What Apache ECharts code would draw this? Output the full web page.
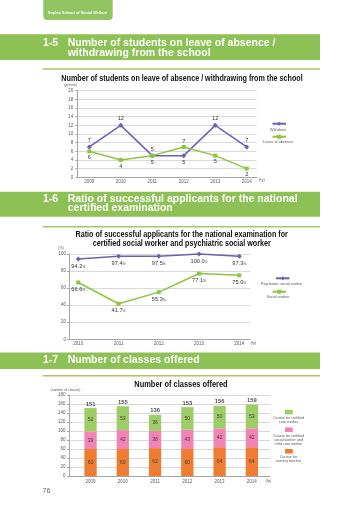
<!DOCTYPE html>
<html><head><meta charset="utf-8">
<script src="https://cdn.jsdelivr.net/npm/echarts@6/dist/echarts.min.js"></script>
<style>html,body{margin:0;padding:0;background:#fff}#c{width:360px;height:509px}</style>
</head><body><div id="c"></div>
<script>
// ---- data ----
const years1 = ['2009','2010','2011','2012','2013','2014'];
const withdraw = [7, 12, 5, 5, 12, 7];
const leaveOfAbsence = [6, 4, 5, 7, 5, 2];
const withdrawLabelPos = ['top','top','bottom','bottom','top','top'];
const leaveLabelPos = ['bottom','bottom','top','top','bottom','bottom'];

const years2 = ['2010','2011','2012','2013','2014'];
const psychiatricSocialWorker = [94.2, 97.4, 97.5, 100.0, 97.3];
const socialWorker = [66.6, 41.7, 55.3, 77.1, 75.0];

const years3 = ['2009','2010','2011','2012','2013','2014'];
const nurseryTeacher = [60, 60, 62, 60, 64, 64];
const socialChildCare = [39, 42, 38, 43, 42, 42];
const careWorker = [52, 53, 36, 50, 50, 53];
const totalClasses = [151, 155, 136, 153, 156, 159];

// ---- styles ----
const SANS = '"Liberation Sans", Arial, Helvetica, sans-serif';
const PURPLE = '#6f5fb1';
const LGREEN = '#8cc63f';
const HEAD = '#8dc155';
const C_ORANGE = '#ee7d31';
const C_PINK = '#f284b5';
const C_GREEN = '#9ccd66';
const AX = '#a6a6a6';
const GRIDC = '#d9d9d9';
const LAB = '#595959';

function txt(x, y, text, size, o) {
  o = o || {};
  const el = {type:'text', x:x, y:y, silent:true, z:10,
    style:{text:text, fontSize:size, fontFamily:SANS, fontWeight:o.weight||'normal',
      fill:o.fill||LAB, align:o.align||'left', verticalAlign:'middle'}};
  if (o.sx) { el.scaleX = o.sx; }
  return el;
}
function rect(x, y, w, h, fill, r) {
  return {type:'rect', silent:true, z:1, shape:{x:x, y:y, width:w, height:h, r:r||0}, style:{fill:fill}};
}
const TT = {fill:'#111', weight:'bold', align:'center', sx:0.825};

const graphics = [
  rect(43.3, -6, 69.4, 26, '#93c462', 4),
  txt(77.5, 13.3, 'Sophia School of Social Welfare', 3.9, {fill:'#fff', weight:'bold', align:'center'}),
  // 1-5
  rect(0, 34.3, 320, 25.7, HEAD),
  txt(43, 42.7, '1-5', 10.5, {fill:'#fff', weight:'bold'}),
  txt(67.7, 42.7, 'Number of students on leave of absence /', 10.5, {fill:'#fff', weight:'bold'}),
  txt(67.7, 52.7, 'withdrawing from the school', 10.5, {fill:'#fff', weight:'bold'}),
  rect(42.7, 68.2, 277.3, 1.6, '#9fcb6e'),
  txt(182, 78.3, 'Number of students on leave of absence / withdrawing from the school', 8.7, TT),
  txt(70.5, 85.3, '(person)', 3.4, {align:'center'}),
  txt(259, 180.2, '(fy)', 4, {}),
  txt(278, 130.2, 'Withdraw', 3.8, {align:'center'}),
  txt(278, 142.4, 'Leave of absence', 3.8, {align:'center'}),
  // 1-6
  rect(0, 191.7, 320, 25, HEAD),
  txt(43, 199.2, '1-6', 10.5, {fill:'#fff', weight:'bold'}),
  txt(67.7, 199.2, 'Ratio of successful applicants for the national', 10.5, {fill:'#fff', weight:'bold'}),
  txt(67.7, 208.5, 'certified examination', 10.5, {fill:'#fff', weight:'bold'}),
  rect(42.7, 225.9, 277.3, 1.6, '#9fcb6e'),
  txt(181.7, 235, 'Ratio of successful applicants for the national examination for', 8.7, TT),
  txt(181.7, 243.3, 'certified social worker and psychiatric social worker', 8.7, TT),
  txt(61, 247.5, '(%)', 3.6, {align:'center'}),
  txt(250.5, 342.8, '(fy)', 4, {}),
  txt(281.5, 283.8, 'Psychiatric social worker', 3.8, {align:'center'}),
  txt(278, 296.8, 'Social worker', 3.8, {align:'center'}),
  // 1-7
  rect(0, 352.5, 320, 16.5, HEAD),
  txt(43, 360.3, '1-7', 10.5, {fill:'#fff', weight:'bold'}),
  txt(67.7, 360.3, 'Number of classes offered', 10.5, {fill:'#fff', weight:'bold'}),
  rect(42.7, 374.9, 277.3, 1.6, '#9fcb6e'),
  txt(181, 384.2, 'Number of classes offered', 9, TT),
  txt(65.5, 390.2, '(number of classes)', 3.4, {align:'center'}),
  txt(265.5, 481.2, '(fy)', 4, {}),
  txt(288.5, 418.3, 'Course for certified', 3.7, {align:'center'}),
  txt(288.5, 422.4, 'care worker', 3.7, {align:'center'}),
  txt(288.5, 435.7, 'Course for certified', 3.7, {align:'center'}),
  txt(288.5, 439.8, 'social worker and', 3.7, {align:'center'}),
  txt(288.5, 443.9, 'child care worker', 3.7, {align:'center'}),
  txt(288.5, 457.1, 'Course for', 3.7, {align:'center'}),
  txt(288.5, 461.2, 'nursery teacher', 3.7, {align:'center'}),
  txt(46.5, 490.7, '76', 7, {fill:'#666', align:'center'})
];

function frameX(gi) {
  return {gridIndex:gi, type:'value', min:0, max:1, axisLabel:{show:false}, splitLine:{show:false},
    axisTick:{show:false}, axisLine:{show:true, lineStyle:{color:AX, width:1}}};
}
function catX(gi, data, gap, margin) {
  return {gridIndex:gi, type:'category', data:data, boundaryGap:gap, axisLine:{show:false}, axisTick:{show:false},
    splitLine:{show:false}, axisLabel:{fontSize:4.5, color:LAB, margin:margin, fontFamily:SANS}};
}
function frameY(gi, max, interval, margin) {
  return {gridIndex:gi, type:'value', min:0, max:max, interval:interval,
    axisLine:{show:true, lineStyle:{color:AX, width:1}},
    axisTick:{show:true, length:2, lineStyle:{color:AX}},
    splitLine:{show:true, lineStyle:{color:GRIDC, width:1}},
    axisLabel:{fontSize:4.5, color:LAB, margin:margin, fontFamily:SANS}};
}
function hiddenY(gi, max) { return {gridIndex:gi, type:'value', min:0, max:max, show:false}; }

const lineLabel = {show:true, fontSize:5.6, color:'#333', distance:1, fontFamily:SANS};
const pctLabel = {show:true, position:'bottom', distance:2, color:'#333',
  formatter: p => '{n|' + p.value.toFixed(1) + '}{u|%}',
  rich:{n:{fontSize:5.6, color:'#333', fontFamily:SANS}, u:{fontSize:3.4, color:'#333', fontFamily:SANS, padding:[1.5,0,0,0]}}};
const barLabel = {show:true, position:'inside', fontSize:5.2, color:'#444', fontFamily:SANS};

const option = {
  animation:false,
  backgroundColor:'#fff',
  graphic: graphics,
  grid:[
    {left:77.3, top:90.7, width:179.4, height:86.6},
    {left:89.3, top:90.7, width:157.4, height:86.6},
    {left:69, top:254, width:181, height:85.3},
    {left:78.3, top:254, width:161, height:85.3},
    {left:69, top:395, width:201, height:81},
    {left:74.4, top:395, width:193.6, height:81}
  ],
  xAxis:[
    frameX(0), catX(1, years1, false, 1.6),
    frameX(2), catX(3, years2, false, 2),
    frameX(4), catX(5, years3, true, 3)
  ],
  yAxis:[
    frameY(0, 20, 2, 4), hiddenY(1, 20),
    frameY(2, 100, 20, 3), hiddenY(3, 100),
    frameY(4, 180, 20, 3.5), hiddenY(5, 180)
  ],
  legend:[
    {data:['Withdraw'], left:271.5, top:121.2, padding:0, itemWidth:13.5, itemHeight:5, formatter:()=>'', selectedMode:false},
    {data:['Leave of absence'], left:271.5, top:134.2, padding:0, itemWidth:13.5, itemHeight:5, formatter:()=>'', selectedMode:false},
    {data:['Psychiatric social worker'], left:275, top:275.8, padding:0, itemWidth:13.5, itemHeight:5, formatter:()=>'', selectedMode:false},
    {data:['Social worker'], left:271.5, top:289.2, padding:0, itemWidth:13.5, itemHeight:5, formatter:()=>'', selectedMode:false},
    {data:['Course for certified care worker'], left:285, top:409.8, padding:0, itemWidth:7.8, itemHeight:4.6, icon:'rect', formatter:()=>'', selectedMode:false},
    {data:['Course for certified social worker and child care worker'], left:285, top:427.4, padding:0, itemWidth:7.8, itemHeight:4.6, icon:'rect', formatter:()=>'', selectedMode:false},
    {data:['Course for nursery teacher'], left:285, top:449, padding:0, itemWidth:7.8, itemHeight:4.6, icon:'rect', formatter:()=>'', selectedMode:false}
  ],
  series:[
    {type:'line', name:'Withdraw', xAxisIndex:1, yAxisIndex:1, symbol:'diamond', symbolSize:5,
      lineStyle:{color:PURPLE, width:1.5}, itemStyle:{color:PURPLE}, label:lineLabel,
      data: withdraw.map((v,i)=>({value:v, label:{position:withdrawLabelPos[i]}}))},
    {type:'line', name:'Leave of absence', xAxisIndex:1, yAxisIndex:1, symbol:'rect', symbolSize:4,
      lineStyle:{color:LGREEN, width:1.5}, itemStyle:{color:LGREEN}, label:lineLabel,
      data: leaveOfAbsence.map((v,i)=>({value:v, label:{position:leaveLabelPos[i]}}))},
    {type:'line', name:'Psychiatric social worker', xAxisIndex:3, yAxisIndex:3, symbol:'diamond', symbolSize:5,
      lineStyle:{color:PURPLE, width:1.5}, itemStyle:{color:PURPLE}, label:pctLabel, clip:false,
      data: psychiatricSocialWorker},
    {type:'line', name:'Social worker', xAxisIndex:3, yAxisIndex:3, symbol:'rect', symbolSize:4,
      lineStyle:{color:LGREEN, width:1.5}, itemStyle:{color:LGREEN}, label:pctLabel,
      data: socialWorker},
    {type:'bar', name:'Course for nursery teacher', xAxisIndex:5, yAxisIndex:5, stack:'classes', barWidth:12.3,
      itemStyle:{color:C_ORANGE}, label:barLabel, data:nurseryTeacher},
    {type:'bar', name:'Course for certified social worker and child care worker', xAxisIndex:5, yAxisIndex:5, stack:'classes', barWidth:12.3,
      itemStyle:{color:C_PINK}, label:barLabel, data:socialChildCare},
    {type:'bar', name:'Course for certified care worker', xAxisIndex:5, yAxisIndex:5, stack:'classes', barWidth:12.3,
      itemStyle:{color:C_GREEN}, label:barLabel, data:careWorker},
    {type:'scatter', name:'Total', xAxisIndex:5, yAxisIndex:5, symbolSize:0.1, itemStyle:{color:'rgba(0,0,0,0)'},
      label:{show:true, position:'top', distance:1, fontSize:5.8, fontWeight:'bold', color:'#222', fontFamily:SANS},
      data: totalClasses}
  ]
};
const chart = echarts.init(document.getElementById('c'), null, {renderer:'canvas'});
chart.setOption(option);
</script>
</body></html>
